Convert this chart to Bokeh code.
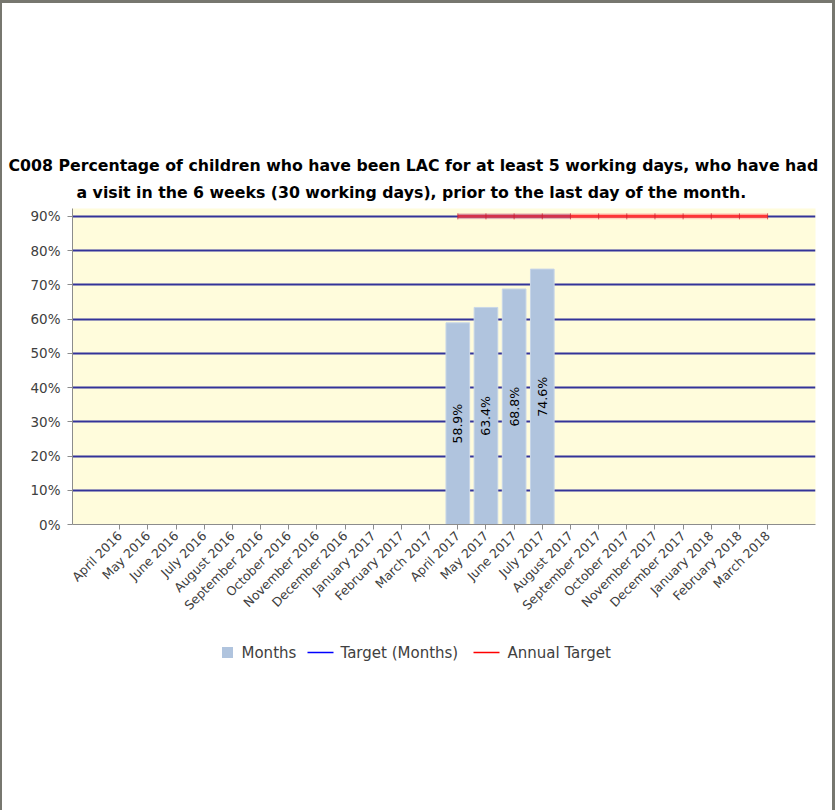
import math

from bokeh.core.properties import value
from bokeh.embed import file_html
from bokeh.layouts import column
from bokeh.models import ColumnDataSource, FixedTicker, Range1d, Title
from bokeh.plotting import figure
from bokeh.resources import INLINE

# ---- data -----------------------------------------------------------------
months = [
    "April 2016", "May 2016", "June 2016", "July 2016", "August 2016",
    "September 2016", "October 2016", "November 2016", "December 2016",
    "January 2017", "February 2017", "March 2017",
    "April 2017", "May 2017", "June 2017", "July 2017", "August 2017",
    "September 2017", "October 2017", "November 2017", "December 2017",
    "January 2018", "February 2018", "March 2018",
]
bar_months = ["April 2017", "May 2017", "June 2017", "July 2017"]
bar_values = [58.9, 63.4, 68.8, 74.6]

target_months = ["April 2017", "May 2017", "June 2017", "July 2017", "August 2017"]
target_values = [90, 90, 90, 90, 90]

annual_months = months[12:]
annual_values = [90] * len(annual_months)

y_ticks = [0, 10, 20, 30, 40, 50, 60, 70, 80, 90]

legend_labels = ["Months", "Target (Months)", "Annual Target"]

title_lines = [
    "C008 Percentage of children who have been LAC for at least 5 working days, who have had",
    "a  visit in the 6 weeks (30 working days), prior to the last day of the month.",
]

# ---- styling constants --------------------------------------------------------
pos = {m: i for i, m in enumerate(months)}
TEXT_FONT = "DejaVu Sans"
AXIS_GREY = "#8c8c8c"
LABEL_GREY = "#404040"
BORDER_GREY = "#77776f"
BAR_BLUE = "#b0c4de"

W = 835
CHART_H, LEGEND_H = 630, 180
BORDER_L, BORDER_T = 2, 3
PAGE_L, PAGE_R, PAGE_T, PAGE_B = 72, 815, 208, 524   # plot frame on the page
# figure borders, minus the host border offsets
FRAME_L, FRAME_R = PAGE_L - BORDER_L, PAGE_R - BORDER_L
FRAME_T, FRAME_B = PAGE_T - BORDER_T, PAGE_B - BORDER_T

# ---- chart ------------------------------------------------------------------
p = figure(
    width=W, height=CHART_H,
    output_backend="svg", toolbar_location=None,
    x_range=Range1d(-1.68, 24.70), y_range=Range1d(0, 92.3),
    min_border_left=FRAME_L, min_border_right=W - FRAME_R,
    min_border_top=FRAME_T, min_border_bottom=CHART_H - FRAME_B,
    background_fill_color="#fffcdc", border_fill_color="white",
    outline_line_color=None,
    styles={
        "border-top": f"{BORDER_T}px solid {BORDER_GREY}",
        "border-left": f"{BORDER_L}px solid {BORDER_GREY}",
        "border-right": f"3px solid {BORDER_GREY}",
        "box-sizing": "border-box",
    },
)

p.xaxis.ticker = FixedTicker(ticks=list(range(len(months))))
p.xaxis.major_label_overrides = {i: m for i, m in enumerate(months)}
p.xaxis.major_label_orientation = math.pi / 4
p.xaxis.minor_tick_line_color = None
p.xaxis.major_tick_in = 0
p.xaxis.major_tick_out = 5
p.xaxis.axis_line_color = AXIS_GREY
p.xaxis.major_tick_line_color = AXIS_GREY
p.xaxis.major_label_text_font = TEXT_FONT
p.xaxis.major_label_text_font_size = "12.5px"
p.xaxis.major_label_text_color = LABEL_GREY
p.xaxis.major_label_standoff = 4

p.yaxis.ticker = FixedTicker(ticks=y_ticks)
p.yaxis.major_label_overrides = {t: f"{t}%" for t in y_ticks}
p.yaxis.minor_tick_line_color = None
p.yaxis.major_tick_in = 0
p.yaxis.major_tick_out = 5
p.yaxis.axis_line_color = AXIS_GREY
p.yaxis.major_tick_line_color = AXIS_GREY
p.yaxis.major_label_text_font = TEXT_FONT
p.yaxis.major_label_text_font_size = "13.5px"
p.yaxis.major_label_text_color = LABEL_GREY
p.yaxis.major_label_standoff = 7

p.xgrid.grid_line_color = None
p.ygrid.ticker = FixedTicker(ticks=y_ticks[1:])
p.ygrid.grid_line_color = "#333399"
p.ygrid.grid_line_width = 2

# bars with their values written vertically inside
bar_src = ColumnDataSource(dict(
    x=[pos[m] for m in bar_months],
    top=bar_values,
    mid=[v / 2 for v in bar_values],
    label=[f"{v:.1f}%" for v in bar_values],
))
p.vbar(x="x", top="top", bottom=0, width=0.84, source=bar_src,
       fill_color=BAR_BLUE, line_color="#c8d6e8", line_width=1)
p.text(x="x", y="mid", text="label", source=bar_src, angle=math.pi / 2,
       text_align="center", text_baseline="middle",
       text_font=value(TEXT_FONT), text_font_size="12.5px", text_color="black")

# annual target (red, soft edge) and monthly target (blue tint over it)
ann_x = [pos[m] for m in annual_months]
p.line(ann_x, annual_values, line_color="#ff8080", line_width=6, line_alpha=0.35)
p.line(ann_x, annual_values, line_color="#ff3535", line_width=3)
p.line([pos[m] for m in target_months], target_values,
       line_color="#3a2a9a", line_width=5, line_alpha=0.22)
p.scatter(ann_x, annual_values, marker="dash", angle=math.pi / 2, size=6,
          line_color="#c81a2a", line_width=1, line_alpha=0.7)

# two-line title: the outer line is added last so it sits above
title_kw = dict(align="left", text_font=TEXT_FONT, text_font_style="bold",
                text_font_size="15.75px", text_color="black")
p.add_layout(Title(text=title_lines[1], offset=76 - PAGE_L, standoff=13, **title_kw), "above")
p.add_layout(Title(text=title_lines[0], offset=8 - PAGE_L, standoff=0, **title_kw), "above")

# ---- legend strip -------------------------------------------------------------
# the strip's frame lines up with the chart frame, so its x data are page pixels
LEG_TOP = CHART_H
lg = figure(
    width=W, height=LEGEND_H,
    output_backend="svg", toolbar_location=None,
    x_range=Range1d(PAGE_L, PAGE_R),
    y_range=Range1d(LEG_TOP + LEGEND_H, LEG_TOP),
    x_axis_type=None, y_axis_type=None,
    min_border=0, outline_line_color=None,
    background_fill_color="white", border_fill_color="white",
    styles={
        "border-left": f"{BORDER_L}px solid {BORDER_GREY}",
        "border-right": f"3px solid {BORDER_GREY}",
        "box-sizing": "border-box",
    },
)
lg.grid.visible = False

LEG_Y = 652
lg.scatter([227], [LEG_Y], marker="square", size=11, fill_color=BAR_BLUE, line_color=None)
lg.segment(x0=[307, 473], y0=[LEG_Y, LEG_Y], x1=[333, 499], y1=[LEG_Y, LEG_Y],
           line_color=["#0000ff", "#ff0000"], line_width=1.5)
lg.text(x=[241, 340, 507], y=[LEG_Y] * 3, text=legend_labels,
        text_align="left", text_baseline="middle",
        text_font=value(TEXT_FONT), text_font_size="15px", text_color=LABEL_GREY)

layout = column(p, lg, spacing=0)
open("out.html", "w").write(file_html(layout, INLINE))
